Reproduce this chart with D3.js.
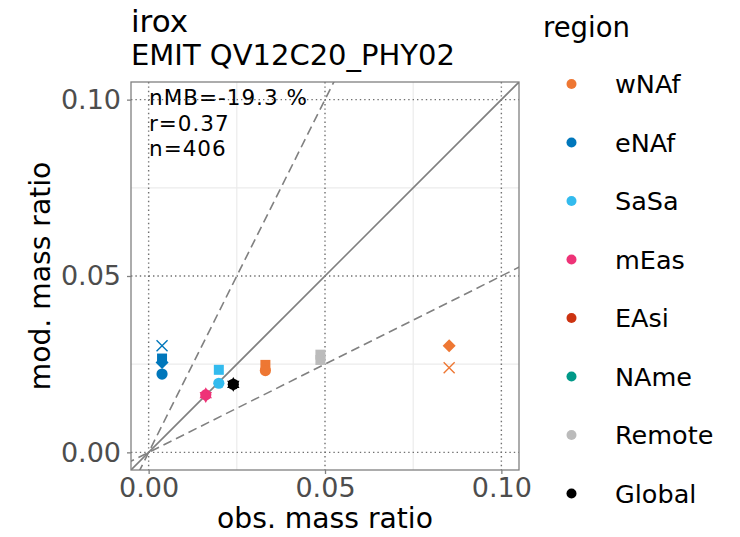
<!DOCTYPE html>
<html>
<head>
<meta charset="utf-8">
<script src="https://cdn.jsdelivr.net/npm/d3@7"></script>
<style>
  html, body { margin: 0; padding: 0; background: #fff; }
  svg { display: block; font-family: "DejaVu Sans", sans-serif; }
</style>
</head>
<body>
<svg id="chart" width="740" height="537"></svg>
<script>
// Regions and their colours (legend order)
const regions = ["wNAf", "eNAf", "SaSa", "mEas", "EAsi", "NAme", "Remote", "Global"];
const regionColors = ["#EE7733", "#0077BB", "#33BBEE", "#EE3377", "#CC3311", "#009988", "#BBBBBB", "#000000"];

// Points: region, marker shape, observed and modelled mass ratio
const pointRegion = ["eNAf", "eNAf", "eNAf", "eNAf",
                     "SaSa", "SaSa",
                     "mEas", "mEas", "mEas",
                     "wNAf", "wNAf", "wNAf", "wNAf",
                     "Remote", "Remote",
                     "Global", "Global", "Global"];
const pointShape  = ["times", "square", "diamond", "circle",
                     "square", "circle",
                     "circle", "triangleDown", "triangleUp",
                     "square", "circle", "diamond", "times",
                     "square", "square",
                     "circle", "triangleUp", "triangleDown"];
const obsValues   = [0.0038, 0.0038, 0.0038, 0.0038,
                     0.0199, 0.0199,
                     0.0162, 0.0162, 0.0162,
                     0.0331, 0.0331, 0.0852, 0.0852,
                     0.0487, 0.0487,
                     0.0240, 0.0240, 0.0240];
const modValues   = [0.0302, 0.0266, 0.0255, 0.0222,
                     0.0234, 0.0196,
                     0.0163, 0.0160, 0.0165,
                     0.0248, 0.0232, 0.0302, 0.0240,
                     0.0277, 0.0262,
                     0.0193, 0.0194, 0.0192];

// Axis ticks and summary statistics
const majorTicks = [0, 0.05, 0.10];
const minorTicks = [0.025, 0.075];
const statLines = ["nMB=-19.3 %", "r=0.37", "n=406"];

const svg = d3.select("#chart");
const panel = { left: 131, top: 82, right: 519, bottom: 470 };
const x = d3.scaleLinear().domain([-0.005, 0.105]).range([panel.left, panel.right]);
const y = d3.scaleLinear().domain([-0.005, 0.105]).range([panel.bottom, panel.top]);
const color = d3.scaleOrdinal().domain(regions).range(regionColors);

// Titles
svg.append("text").attr("x", 131).attr("y", 32).attr("font-size", 31).attr("fill", "#000").text("irox");
svg.append("text").attr("x", 131).attr("y", 65).attr("font-size", 29).attr("fill", "#000").text("EMIT QV12C20_PHY02");

// Panel background
svg.append("rect").attr("x", panel.left).attr("y", panel.top)
  .attr("width", panel.right - panel.left).attr("height", panel.bottom - panel.top)
  .attr("fill", "#fff");

const clip = svg.append("defs").append("clipPath").attr("id", "panel-clip");
clip.append("rect").attr("x", panel.left).attr("y", panel.top)
  .attr("width", panel.right - panel.left).attr("height", panel.bottom - panel.top);

const grid = svg.append("g");
// minor grid: faint solid lines
minorTicks.forEach(v => {
  grid.append("line").attr("x1", x(v)).attr("x2", x(v)).attr("y1", panel.top).attr("y2", panel.bottom)
    .attr("stroke", "#EBEBEB").attr("stroke-width", 1.2);
  grid.append("line").attr("y1", y(v)).attr("y2", y(v)).attr("x1", panel.left).attr("x2", panel.right)
    .attr("stroke", "#EBEBEB").attr("stroke-width", 1.2);
});
// major grid: dotted grey lines
majorTicks.forEach(v => {
  grid.append("line").attr("x1", x(v)).attr("x2", x(v)).attr("y1", panel.top).attr("y2", panel.bottom)
    .attr("stroke", "#707070").attr("stroke-width", 1.4).attr("stroke-dasharray", "1.4,3");
  grid.append("line").attr("y1", y(v)).attr("y2", y(v)).attr("x1", panel.left).attr("x2", panel.right)
    .attr("stroke", "#707070").attr("stroke-width", 1.4).attr("stroke-dasharray", "1.4,3");
});

// 1:1 line and factor-of-two lines
const refs = svg.append("g").attr("clip-path", "url(#panel-clip)");
const lo = -0.01, hi = 0.2;
[[1, null], [2, "9,5"], [0.5, "9,5"]].forEach(([k, dash]) => {
  const l = refs.append("line")
    .attr("x1", x(lo)).attr("y1", y(lo * k)).attr("x2", x(hi)).attr("y2", y(hi * k))
    .attr("stroke", "#808080").attr("stroke-width", 1.6);
  if (dash) l.attr("stroke-dasharray", dash);
});

// Marker shapes
function shapePath(shape) {
  const p = d3.path();
  if (shape === "circle") { p.arc(0, 0, 5.6, 0, 2 * Math.PI); }
  else if (shape === "square") { p.rect(-5, -5, 10, 10); }
  else if (shape === "diamond") { p.moveTo(0, -6.5); p.lineTo(6.5, 0); p.lineTo(0, 6.5); p.lineTo(-6.5, 0); p.closePath(); }
  else if (shape === "triangleUp") { p.moveTo(0, -7); p.lineTo(6.2, 4); p.lineTo(-6.2, 4); p.closePath(); }
  else if (shape === "triangleDown") { p.moveTo(0, 7); p.lineTo(6.2, -4); p.lineTo(-6.2, -4); p.closePath(); }
  else if (shape === "times") { p.moveTo(-5.5, -5.5); p.lineTo(5.5, 5.5); p.moveTo(5.5, -5.5); p.lineTo(-5.5, 5.5); }
  return p.toString();
}

const pts = d3.range(obsValues.length).map(i => ({
  region: pointRegion[i], shape: pointShape[i], obs: obsValues[i], mod: modValues[i]
}));

svg.append("g").attr("clip-path", "url(#panel-clip)")
  .selectAll("path").data(pts).join("path")
  .attr("transform", d => `translate(${x(d.obs)},${y(d.mod)})`)
  .attr("d", d => shapePath(d.shape))
  .attr("fill", d => d.shape === "times" ? "none" : color(d.region))
  .attr("stroke", d => d.shape === "times" ? color(d.region) : "none")
  .attr("stroke-width", 1.4);

// Panel border
svg.append("rect").attr("x", panel.left).attr("y", panel.top)
  .attr("width", panel.right - panel.left).attr("height", panel.bottom - panel.top)
  .attr("fill", "none").attr("stroke", "#808080").attr("stroke-width", 1.3);

// Summary statistics, one text per line
statLines.forEach((s, i) => {
  svg.append("text").attr("x", 149).attr("y", 105 + i * 25.5)
    .attr("font-size", 21.5).attr("letter-spacing", "1px").attr("fill", "#000").text(s);
});

// Axes
const fmt = d3.format(".2f");
const xAxis = svg.append("g").attr("transform", `translate(0,${panel.bottom})`)
  .call(d3.axisBottom(x).tickValues(majorTicks).tickFormat(fmt).tickSize(4).tickPadding(4));
const yAxis = svg.append("g").attr("transform", `translate(${panel.left},0)`)
  .call(d3.axisLeft(y).tickValues(majorTicks).tickFormat(fmt).tickSize(4).tickPadding(6));
[xAxis, yAxis].forEach(a => {
  a.select(".domain").remove();
  a.selectAll(".tick line").attr("stroke", "#808080").attr("stroke-width", 1.3);
  a.selectAll(".tick text").attr("fill", "#4D4D4D").attr("font-size", 27)
    .attr("font-family", "DejaVu Sans, sans-serif");
});

svg.append("text").attr("x", (panel.left + panel.right) / 2).attr("y", 528)
  .attr("text-anchor", "middle").attr("font-size", 28.2).attr("fill", "#000").text("obs. mass ratio");
svg.append("text").attr("transform", `translate(50,${(panel.top + panel.bottom) / 2}) rotate(-90)`)
  .attr("text-anchor", "middle").attr("font-size", 28.2).attr("fill", "#000").text("mod. mass ratio");

// Legend
const legend = svg.append("g");
legend.append("text").attr("x", 543).attr("y", 37).attr("font-size", 27.5).attr("fill", "#000").text("region");
regions.forEach((r, i) => {
  const cy = 84 + i * 58.5;
  legend.append("circle").attr("cx", 571.5).attr("cy", cy).attr("r", 5).attr("fill", color(r));
  legend.append("text").attr("x", 615).attr("y", cy).attr("dy", "0.36em")
    .attr("font-size", 25.5).attr("fill", "#000").text(r);
});
</script>
</body>
</html>
